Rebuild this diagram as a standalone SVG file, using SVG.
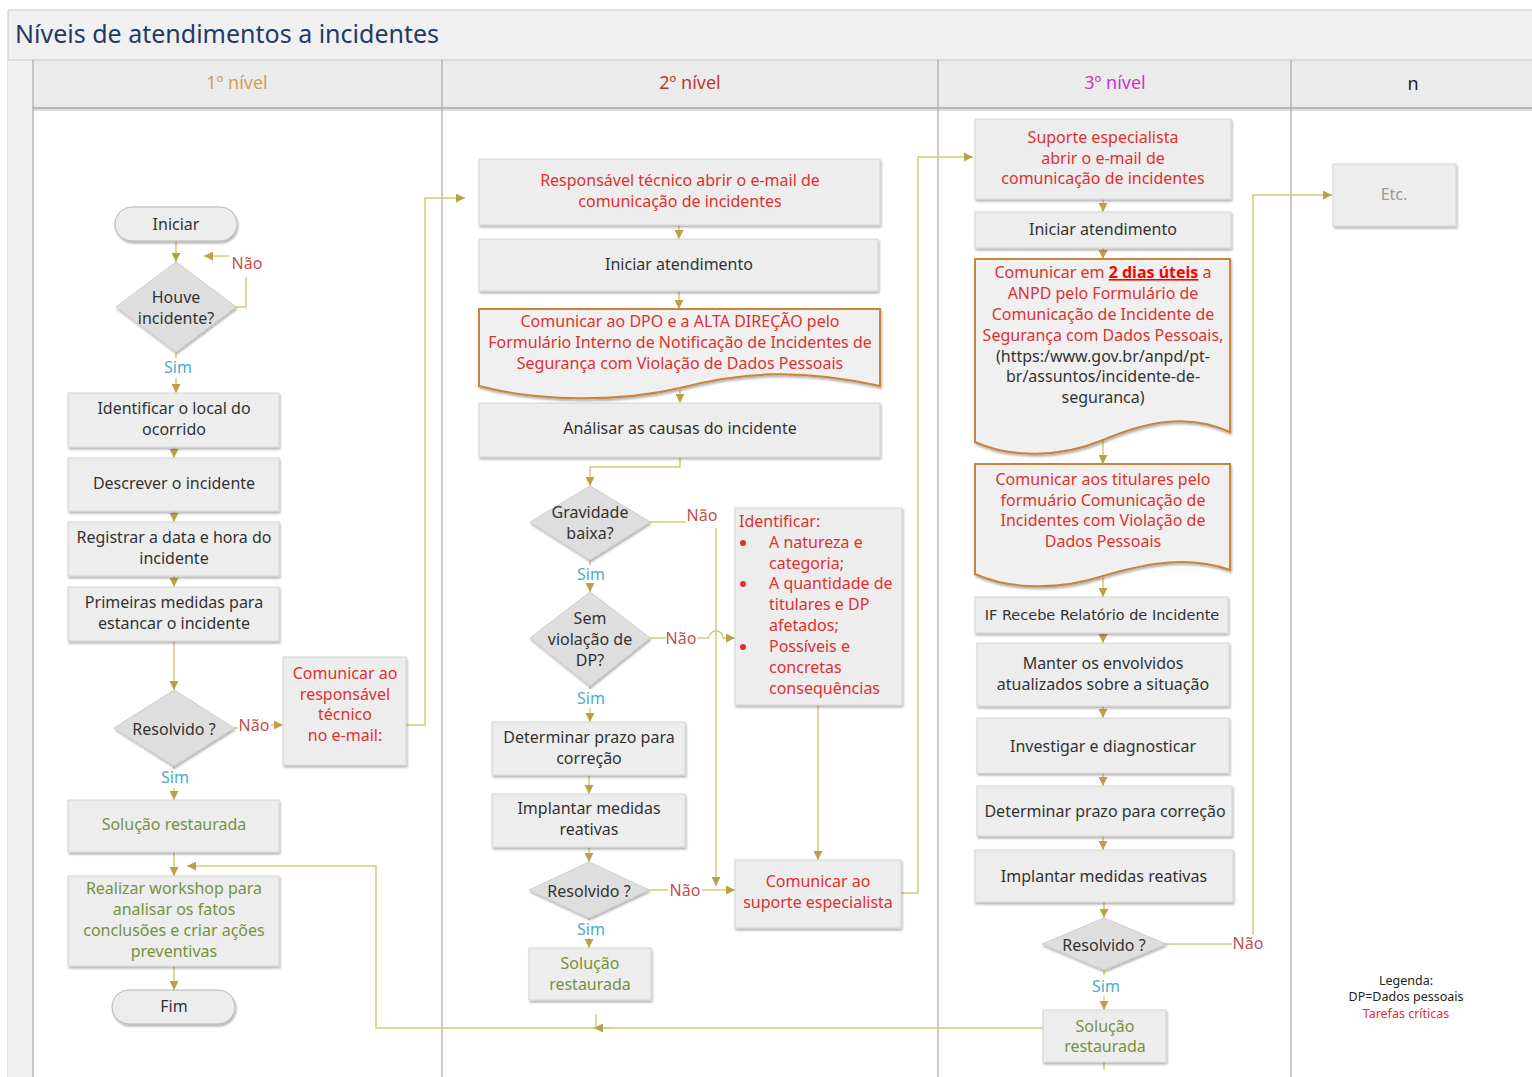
<svg xmlns="http://www.w3.org/2000/svg" width="1532" height="1077" viewBox="0 0 1532 1077">
<defs>
<filter id="sh" x="-5%" y="-10%" width="112%" height="130%"><feDropShadow dx="1" dy="2" stdDeviation="1.2" flood-color="#000" flood-opacity="0.3"/></filter>
<marker id="ar" viewBox="0 0 10 10" refX="10" refY="5" markerWidth="10" markerHeight="9" markerUnits="userSpaceOnUse" orient="auto"><path d="M0,0 L10,5 L0,10 z" fill="#b8a246"/></marker>
<style>
.box{fill:#ededed;stroke:#d4d4d4;stroke-width:1;filter:url(#sh)}
.doc{fill:#f0f0f0;stroke:#c8843c;stroke-width:2;filter:url(#sh)}
.dia{fill:#dedede;stroke:#cdcdcd;stroke-width:1;filter:url(#sh)}
.pill{fill:#ececec;stroke:#b5b5b5;stroke-width:1;filter:url(#sh)}
text{font-family:"Noto Sans","Liberation Sans",sans-serif;font-size:16px;fill:#333;text-anchor:middle}
.red{fill:#e0302f}
.grn{fill:#76923c}
.sim{fill:#4bacc6}
.nao{fill:#c0504d}
.l{text-anchor:start}
.bul{fill:#e0302f}
.con{fill:none;stroke:#d8c878;stroke-width:1.5}
.arr{marker-end:url(#ar)}
.lane{stroke:#a8a8a8;stroke-width:1.2}
</style>
</defs>
<rect x="0" y="0" width="1532" height="1077" fill="#fff"/>
<g id="frame">
<rect x="8" y="10" width="1524" height="50" fill="#f0f0f0"/>
<line x1="8" y1="10" x2="1532" y2="10" stroke="#c8c8c8"/>
<line x1="8" y1="10" x2="8" y2="1077" stroke="#c8c8c8"/>
<text x="15" y="43" class="l" style="font-size:25px;fill:#1f3b63">Níveis de atendimentos a incidentes</text>
<rect x="8" y="60" width="25" height="1017" fill="#f0f0f0"/>
<rect x="33" y="60" width="1499" height="48" fill="#ebebeb"/>
<line x1="8" y1="60" x2="1532" y2="60" stroke="#c8c8c8"/>
<line x1="33" y1="108" x2="1532" y2="108" stroke="#b8b8b8" stroke-width="2"/>
<line x1="33" y1="110" x2="1532" y2="110" stroke="#dddddd" stroke-width="2"/>
<line class="lane" x1="33" y1="60" x2="33" y2="1077"/>
<line class="lane" x1="442" y1="60" x2="442" y2="1077"/>
<line class="lane" x1="938" y1="60" x2="938" y2="1077"/>
<line class="lane" x1="1291" y1="60" x2="1291" y2="1077"/>
<text x="237" y="89" style="font-size:18px;fill:#d99a5b">1º nível</text>
<text x="690" y="89" style="font-size:18px;fill:#c0392b">2º nível</text>
<text x="1115" y="89" style="font-size:18px;fill:#cc33cc">3º nível</text>
<text x="1413" y="90" style="font-size:18px;fill:#222">n</text>
</g>
<g id="connectors">
<path class="con arr" d="M176,241 V262"/>
<path class="con" d="M236,307 H246 V277"/>
<path class="con arr" d="M229,256 H204"/>
<path class="con" d="M176,352 V358"/>
<path class="con arr" d="M176,378 V393"/>
<path class="con arr" d="M174,447 V458"/>
<path class="con arr" d="M174,511 V522"/>
<path class="con arr" d="M174,576 V587"/>
<path class="con arr" d="M174,641 V690"/>
<path class="con" d="M234,728 H238"/>
<path class="con arr" d="M271,725 H283"/>
<path class="con arr" d="M406,725 H425 V198 H465"/>
<path class="con" d="M174,766 V769"/>
<path class="con arr" d="M174,788 V800"/>
<path class="con arr" d="M174,852 V876"/>
<path class="con arr" d="M174,966 V990"/>
<path class="con arr" d="M1043,1028 H376 V866 H187"/>
<path class="con" d="M596,1014 V1028"/>
<path class="con arr" d="M612,1028 H594"/>
<path class="con arr" d="M679,225 V239"/>
<path class="con arr" d="M679,291 V309"/>
<path class="con arr" d="M680,390 V403"/>
<path class="con arr" d="M680,457 V467 H590 V486"/>
<path class="con" d="M650,522 H686"/>
<path class="con arr" d="M716,528 V886"/>
<path class="con" d="M590,560 V565"/>
<path class="con arr" d="M590,584 V592"/>
<path class="con" d="M650,638 H666"/>
<path class="con arr" d="M697,638 H709 A7,7 0 0 1 723,638 H735"/>
<path class="con" d="M590,686 V689"/>
<path class="con arr" d="M590,708 V722"/>
<path class="con arr" d="M589,775 V794"/>
<path class="con arr" d="M589,847 V862"/>
<path class="con" d="M649,890 H668"/>
<path class="con arr" d="M702,890 H735"/>
<path class="con" d="M589,918 V920"/>
<path class="con arr" d="M589,938 V948"/>
<path class="con arr" d="M818,705 V860"/>
<path class="con arr" d="M901,893 H918 V157 H973"/>
<path class="con arr" d="M1103,199 V212"/>
<path class="con arr" d="M1103,248 V259"/>
<path class="con arr" d="M1103,440 V464"/>
<path class="con arr" d="M1103,578 V597"/>
<path class="con arr" d="M1103,633 V643"/>
<path class="con arr" d="M1103,706 V718"/>
<path class="con arr" d="M1103,773 V786"/>
<path class="con arr" d="M1103,836 V850"/>
<path class="con arr" d="M1104,902 V918"/>
<path class="con" d="M1166,944 H1232"/>
<path class="con arr" d="M1253,935 V195 H1332"/>
<path class="con" d="M1104,970 V975"/>
<path class="con arr" d="M1104,996 V1010"/>
<path class="con" d="M1104,1062 V1070"/>
</g>
<g id="labels">
<text x="247" y="269" class="nao">Não</text>
<text x="178" y="373" class="sim">Sim</text>
<text x="254" y="731" class="nao">Não</text>
<text x="175" y="783" class="sim">Sim</text>
<text x="702" y="521" class="nao">Não</text>
<text x="591" y="580" class="sim">Sim</text>
<text x="681" y="644" class="nao">Não</text>
<text x="591" y="704" class="sim">Sim</text>
<text x="685" y="896" class="nao">Não</text>
<text x="591" y="935" class="sim">Sim</text>
<text x="1248" y="949" class="nao">Não</text>
<text x="1106" y="992" class="sim">Sim</text>
</g>
<g id="n-iniciar"><rect class="pill" x="115" y="207" width="122" height="34" rx="17"/><text x="176" y="230">Iniciar</text></g>
<g id="n-houve"><polygon class="dia" points="176,262 236,307 176,352 116,307"/><text x="176" y="303">Houve</text><text x="176" y="324">incidente?</text></g>
<g id="n-identificar-local"><rect class="box" x="68" y="393" width="211" height="54"/><text x="174" y="414">Identificar o local do</text><text x="174" y="435">ocorrido</text></g>
<g id="n-descrever"><rect class="box" x="68" y="458" width="211" height="53"/><text x="174" y="489">Descrever o incidente</text></g>
<g id="n-registrar"><rect class="box" x="68" y="522" width="211" height="54"/><text x="174" y="543">Registrar a data e hora do</text><text x="174" y="564">incidente</text></g>
<g id="n-primeiras"><rect class="box" x="68" y="587" width="211" height="54"/><text x="174" y="608">Primeiras medidas para</text><text x="174" y="629">estancar o incidente</text></g>
<g id="n-resolvido1"><polygon class="dia" points="174,690 234,728 174,766 114,728"/><text x="174" y="735">Resolvido ?</text></g>
<g id="n-comunicar-resp"><rect class="box" x="283" y="657" width="123" height="108"/><text x="345" y="679" class="red">Comunicar ao</text><text x="345" y="700" class="red">responsável</text><text x="345" y="720" class="red">técnico</text><text x="345" y="741" class="red">no e-mail:</text></g>
<g id="n-solucao1"><rect class="box" x="68" y="800" width="211" height="52"/><text x="174" y="830" class="grn">Solução restaurada</text></g>
<g id="n-workshop"><rect class="box" x="68" y="876" width="211" height="90"/><text x="174" y="894" class="grn">Realizar workshop para</text><text x="174" y="915" class="grn">analisar os fatos</text><text x="174" y="936" class="grn">conclusões e criar ações</text><text x="174" y="957" class="grn">preventivas</text></g>
<g id="n-fim"><rect class="pill" x="112" y="990" width="123" height="34" rx="17"/><text x="174" y="1012">Fim</text></g>
<g id="n-resp-abrir"><rect class="box" x="479" y="159" width="401" height="66"/><text x="680" y="186" class="red">Responsável técnico abrir o e-mail de</text><text x="680" y="207" class="red">comunicação de incidentes</text></g>
<g id="n-iniciar-at2"><rect class="box" x="479" y="239" width="399" height="52"/><text x="679" y="270">Iniciar atendimento</text></g>
<g id="n-dpo"><path class="doc" d="M479,309 H880 V386 C800,368 740,372 680,388 C620,402 540,402 479,386 Z"/><text x="680" y="327" class="red">Comunicar ao DPO e a ALTA DIREÇÃO pelo</text><text x="680" y="348" class="red">Formulário Interno de Notificação de Incidentes de</text><text x="680" y="369" class="red">Segurança com Violação de Dados Pessoais</text></g>
<g id="n-analisar"><rect class="box" x="479" y="403" width="401" height="54"/><text x="680" y="434">Análisar as causas do incidente</text></g>
<g id="n-gravidade"><polygon class="dia" points="590,486 650,522 590,560 530,522"/><text x="590" y="518">Gravidade</text><text x="590" y="539">baixa?</text></g>
<g id="n-sem-violacao"><polygon class="dia" points="590,592 650,638 590,686 530,638"/><text x="590" y="624">Sem</text><text x="590" y="645">violação de</text><text x="590" y="666">DP?</text></g>
<g id="n-identificar"><rect class="box" x="735" y="508" width="167" height="197"/>
<text x="739" y="527" class="red l">Identificar:</text>
<circle class="bul" cx="743" cy="543" r="3"/><text x="769" y="548" class="red l">A natureza e</text>
<text x="769" y="569" class="red l">categoria;</text>
<circle class="bul" cx="743" cy="584" r="3"/><text x="769" y="589" class="red l">A quantidade de</text>
<text x="769" y="610" class="red l">titulares e DP</text>
<text x="769" y="631" class="red l">afetados;</text>
<circle class="bul" cx="743" cy="647" r="3"/><text x="769" y="652" class="red l">Possíveis e</text>
<text x="769" y="673" class="red l">concretas</text>
<text x="769" y="694" class="red l">consequências</text></g>
<g id="n-determinar2"><rect class="box" x="492" y="722" width="193" height="53"/><text x="589" y="743">Determinar prazo para</text><text x="589" y="764">correção</text></g>
<g id="n-implantar2"><rect class="box" x="492" y="794" width="193" height="53"/><text x="589" y="814">Implantar medidas</text><text x="589" y="835">reativas</text></g>
<g id="n-resolvido2"><polygon class="dia" points="589,862 649,890 589,918 529,890"/><text x="589" y="897">Resolvido ?</text></g>
<g id="n-solucao2"><rect class="box" x="529" y="948" width="122" height="52"/><text x="590" y="969" class="grn">Solução</text><text x="590" y="990" class="grn">restaurada</text></g>
<g id="n-comunicar-suporte"><rect class="box" x="735" y="860" width="166" height="68"/><text x="818" y="887" class="red">Comunicar ao</text><text x="818" y="908" class="red">suporte especialista</text></g>
<g id="n-suporte-abrir"><rect class="box" x="975" y="119" width="256" height="80"/><text x="1103" y="143" class="red">Suporte especialista</text><text x="1103" y="164" class="red">abrir o e-mail de</text><text x="1103" y="184" class="red">comunicação de incidentes</text></g>
<g id="n-iniciar-at3"><rect class="box" x="975" y="212" width="256" height="36"/><text x="1103" y="235">Iniciar atendimento</text></g>
<g id="n-anpd"><path class="doc" d="M975,259 H1230 V432 C1190,414 1150,420 1103,440 C1060,458 1010,458 975,442 Z"/>
<text x="1103" y="278" class="red">Comunicar em <tspan style="font-weight:bold;text-decoration:underline;fill:#ff0000">2 dias úteis</tspan> a</text>
<text x="1103" y="299" class="red">ANPD  pelo Formulário de</text>
<text x="1103" y="320" class="red">Comunicação de Incidente de</text>
<text x="1103" y="341" class="red">Segurança com Dados Pessoais,</text>
<text x="1103" y="362">(https:/www.gov.br/anpd/pt-</text>
<text x="1103" y="382">br/assuntos/incidente-de-</text>
<text x="1103" y="403">seguranca)</text></g>
<g id="n-titulares"><path class="doc" d="M975,464 H1230 V570 C1190,556 1150,562 1103,576 C1060,590 1010,590 975,574 Z"/><text x="1103" y="485" class="red">Comunicar aos titulares pelo</text><text x="1103" y="506" class="red">formuário Comunicação de</text><text x="1103" y="526" class="red">Incidentes com Violação de</text><text x="1103" y="547" class="red">Dados Pessoais</text></g>
<g id="n-if"><rect class="box" x="975" y="597" width="253" height="36"/><text x="1102" y="620" style="font-family:'DejaVu Sans',sans-serif;font-size:14.5px">IF Recebe Relatório de Incidente</text></g>
<g id="n-manter"><rect class="box" x="977" y="643" width="252" height="63"/><text x="1103" y="669">Manter os envolvidos</text><text x="1103" y="690">atualizados sobre a situação</text></g>
<g id="n-investigar"><rect class="box" x="977" y="718" width="252" height="55"/><text x="1103" y="752">Investigar e diagnosticar</text></g>
<g id="n-determinar3"><rect class="box" x="977" y="786" width="255" height="50"/><text x="1105" y="817">Determinar prazo para correção</text></g>
<g id="n-implantar3"><rect class="box" x="975" y="850" width="258" height="52"/><text x="1104" y="882">Implantar medidas reativas</text></g>
<g id="n-resolvido3"><polygon class="dia" points="1104,918 1166,944 1104,970 1042,944"/><text x="1104" y="951">Resolvido ?</text></g>
<g id="n-solucao3"><rect class="box" x="1043" y="1010" width="123" height="52"/><text x="1105" y="1032" class="grn">Solução</text><text x="1105" y="1052" class="grn">restaurada</text></g>
<g id="n-etc"><rect class="box" x="1333" y="164" width="123" height="62"/><text x="1394" y="200" style="fill:#999">Etc.</text></g>
<g id="legend"><text x="1406" y="985" style="font-size:12.5px;fill:#222">Legenda:</text><text x="1406" y="1001" style="font-size:12.5px;fill:#222">DP=Dados pessoais</text><text x="1406" y="1018" style="font-size:12.5px;fill:#e0302f">Tarefas críticas</text></g>
</svg>
